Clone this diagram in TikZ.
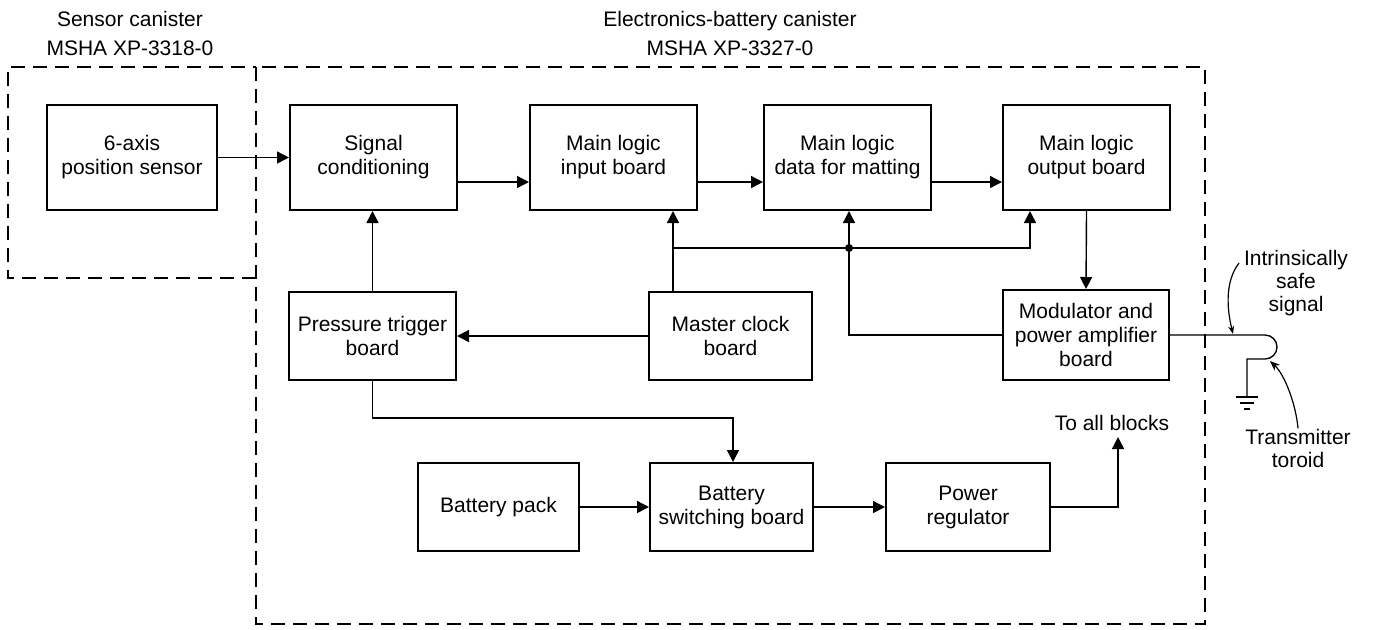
\documentclass[tikz,border=0pt]{standalone}
\usepackage{fontspec}
\setmainfont{Liberation Sans}
\usetikzlibrary{arrows.meta}
\begin{document}
\begin{tikzpicture}[x=0.5pt,y=-0.5pt,
  blk/.style={draw, line width=1pt, align=center, inner sep=0pt, minimum height=52.5pt, font=\fontsize{10.5}{12}\selectfont},
  blks/.style={blk, minimum height=44pt},
  conn/.style={line width=0.7pt},
  arr/.style={conn, -{Triangle[length=6pt,width=6pt]}},
  dsh/.style={line width=0.8pt, dash pattern=on 7pt off 4pt},
  lbl/.style={align=center, inner sep=0pt, font=\fontsize{10.5}{14.5}\selectfont},
  thin/.style={line width=0.6pt}]
\useasboundingbox (0,0) rectangle (1374,629);
% canisters
\draw[dsh] (256,67) rectangle (1205,624);
\draw[dsh] (256,278) -- (8,278) -- (8,67) -- (256,67);
\node[lbl] (lsens) at (130,33) {Sensor canister\\MSHA XP-3318-0};
\node[lbl] (lelec) at (730,33) {Electronics-battery canister\\MSHA XP-3327-0};
% blocks
\node[blk, minimum width=85pt] (sensor) at (132,157.5) {6-axis\\position sensor};
\node[blk, minimum width=83.5pt] (sig) at (373.5,157.5) {Signal\\conditioning};
\node[blk, minimum width=83.5pt] (inb) at (613.5,157.5) {Main logic\\input board};
\node[blk, minimum width=83.5pt] (dat) at (847.5,157.5) {Main logic\\data for matting};
\node[blk, minimum width=83.5pt] (outb) at (1086.5,157.5) {Main logic\\output board};
\node[blks, minimum width=83.5pt] (pres) at (372.5,336) {Pressure trigger\\board};
\node[blks, minimum width=81.5pt] (mclk) at (730.5,335.5) {Master clock\\board};
\node[blks, minimum width=83pt, minimum height=45pt] (mod) at (1086,335) {Modulator and\\power amplifier\\board};
\node[blks, minimum width=80.5pt] (bpack) at (498.5,507) {Battery pack};
\node[blks, minimum width=81.5pt] (bsw) at (731.5,507) {Battery\\switching board};
\node[blks, minimum width=82pt] (preg) at (968,507) {Power\\regulator};
% helper coordinates
\coordinate (r2) at (0,182);
\coordinate (c1) at (673,248);
\coordinate (j) at (849,248);
\coordinate (c2) at (1030,248);
\coordinate (k) at (733,418);
\coordinate (tab) at (1118,437);
\coordinate (t1) at (1265,335);
\coordinate (t2) at (1247,359);
\coordinate (gnd) at (1247,397);
% signal chain
\draw[arr] (sensor.east) -- (sig.west);
\draw[arr] (sig.east |- r2) -- (inb.west |- r2);
\draw[arr] (inb.east |- r2) -- (dat.west |- r2);
\draw[arr] (dat.east |- r2) -- (outb.west |- r2);
\draw[arr] (pres.north) -- (pres.north |- sig.south);
\draw[arr] (mclk.west |- pres.east) -- (pres.east);
% clock bus
\draw[arr] (c1 |- mclk.north) -- (c1 |- inb.south);
\draw[arr] (c1) -- (c2) -- (c2 |- outb.south);
\draw[arr] (j) -- (j |- dat.south);
\draw[conn] (j) -- (j |- mod.west) -- (mod.west);
\fill (j) circle[radius=2pt];
\draw[arr] (outb.south) -- (mod.north);
% power
\draw[arr] (pres.south) |- (k) -- (k |- bsw.north);
\draw[arr] (bpack.east) -- (bsw.west);
\draw[arr] (bsw.east) -- (preg.west);
\draw[arr] (preg.east) -| (tab);
\node[lbl] (tall) at (1112,423) {To all blocks};
% output to toroid
\draw[conn] (mod.east) -- (t1) arc[start angle=90, end angle=-90, radius=6pt] -- (t2) -- (gnd);
\draw[conn] ([xshift=-5.5pt]gnd) -- ([xshift=5.5pt]gnd);
\draw[conn] ([xshift=-3.5pt,yshift=-3pt]gnd) -- ([xshift=3.5pt,yshift=-3pt]gnd);
\draw[conn] ([xshift=-1.5pt,yshift=-6pt]gnd) -- ([xshift=1.5pt,yshift=-6pt]gnd);
\node[lbl, font=\fontsize{10.5}{11.5}\selectfont] (isafe) at (1296,283) {Intrinsically\\safe\\signal};
\node[lbl, font=\fontsize{10.5}{11.5}\selectfont] (ttor) at (1298,448) {Transmitter\\toroid};
\draw[thin, -{Stealth[length=4pt,width=3pt]}] (1239,263) .. controls (1226,280) and (1226,305) .. (1233,334);
\draw[thin, -{Stealth[length=5pt,width=4pt]}] (ttor.north) .. controls (1296,405) and (1285,375) .. (1270,361);
\end{tikzpicture}
\end{document}
